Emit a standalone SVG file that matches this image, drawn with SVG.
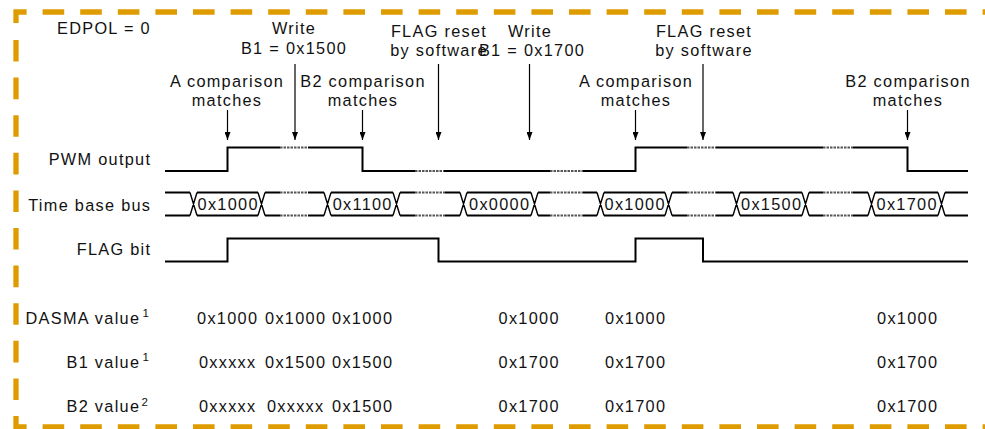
<svg xmlns="http://www.w3.org/2000/svg" width="985" height="429" viewBox="0 0 985 429">
<defs>
<marker id="ah" viewBox="0 0 8 6" refX="8" refY="3" markerWidth="8" markerHeight="6" markerUnits="userSpaceOnUse" orient="auto">
<path d="M0,0 L8,3 L0,6 z" fill="#000"/>
</marker>
</defs>
<style>
text{font-family:"Liberation Sans",Arial,sans-serif;font-size:16.3px;letter-spacing:1.3px;fill:#111}
.m{text-anchor:middle}
.e{text-anchor:end}
.sup{font-size:11.5px;letter-spacing:0}
.border{fill:none;stroke:#DE9C00;stroke-width:5.3;stroke-dasharray:21.6 16}
.w{fill:none;stroke:#000;stroke-width:2}
.d{fill:none;stroke:#555;stroke-width:2;stroke-dasharray:2.5 1}
.x{fill:none;stroke:#000;stroke-width:1.4}
.arr{stroke:#000;stroke-width:1.2;fill:none}
</style>
<g id="border">
<path class="border" d="M16,23 V12 H995"/>
<path class="border" d="M16,40 V427 H995"/>
</g>
<g id="title"><text x="57" y="34">EDPOL = 0</text></g>
<g id="events">
<text class="m" x="227" y="86.5">A comparison</text><text class="m" x="227" y="106">matches</text>
<text class="m" x="294" y="34">Write</text><text class="m" x="294" y="53.5">B1 = 0x1500</text>
<text class="m" x="363" y="86.5">B2 comparison</text><text class="m" x="363" y="106">matches</text>
<text class="m" x="439" y="36.5">FLAG reset</text><text class="m" x="439" y="55.5">by software</text>
<text class="m" x="530" y="36.5">Write</text><text class="m" x="532" y="55.5">B1 = 0x1700</text>
<text class="m" x="636" y="86.5">A comparison</text><text class="m" x="636" y="106">matches</text>
<text class="m" x="704" y="36.5">FLAG reset</text><text class="m" x="704" y="55.5">by software</text>
<text class="m" x="908" y="86.5">B2 comparison</text><text class="m" x="908" y="106">matches</text>
</g>
<g id="connectors">
<line class="arr" x1="227.5" y1="110" x2="227.5" y2="140" marker-end="url(#ah)"/>
<line class="arr" x1="295" y1="64" x2="295" y2="140" marker-end="url(#ah)"/>
<line class="arr" x1="362.5" y1="110" x2="362.5" y2="140" marker-end="url(#ah)"/>
<line class="arr" x1="438.5" y1="64" x2="438.5" y2="140" marker-end="url(#ah)"/>
<line class="arr" x1="529.5" y1="64" x2="529.5" y2="140" marker-end="url(#ah)"/>
<line class="arr" x1="635.5" y1="110" x2="635.5" y2="140" marker-end="url(#ah)"/>
<line class="arr" x1="703" y1="64" x2="703" y2="140" marker-end="url(#ah)"/>
<line class="arr" x1="907.5" y1="110" x2="907.5" y2="140" marker-end="url(#ah)"/>
</g>
<g id="pwm">
<text class="e" x="151.3" y="164.5">PWM output</text>
<path class="w" d="M165,171 H227.5 V147.5 H280 M308,147.5 H362.5 V171 H415 M444,171 H550 M583,171 H635.5 V147.5 H687 M716,147.5 H823 M853,147.5 H907.5 V171 H968"/>
<path class="d" d="M280,147.5 H308 M415,171 H444 M550,171 H583 M687,147.5 H716 M823,147.5 H853"/>
</g>
<g id="bus">
<text class="e" x="151.3" y="210.5">Time base bus</text>
<path class="w" d="M165,192.5 H190 M197,192.5 H258 M265,192.5 H280 M308,192.5 H324 M331,192.5 H393 M400,192.5 H415 M445,192.5 H460 M467,192.5 H531 M538,192.5 H550 M583,192.5 H597 M604,192.5 H665 M672,192.5 H687 M716,192.5 H733 M740,192.5 H802 M809,192.5 H823 M853,192.5 H868 M875,192.5 H938 M945,192.5 H968
M165,215.5 H190 M197,215.5 H258 M265,215.5 H280 M308,215.5 H324 M331,215.5 H393 M400,215.5 H415 M445,215.5 H460 M467,215.5 H531 M538,215.5 H550 M583,215.5 H597 M604,215.5 H665 M672,215.5 H687 M716,215.5 H733 M740,215.5 H802 M809,215.5 H823 M853,215.5 H868 M875,215.5 H938 M945,215.5 H968"/>
<path class="d" d="M280,192.5 H308 M415,192.5 H445 M550,192.5 H583 M687,192.5 H716 M823,192.5 H853 M280,215.5 H308 M415,215.5 H445 M550,215.5 H583 M687,215.5 H716 M823,215.5 H853"/>
<path class="x" d="M190,192.5 L197,215.5 M190,215.5 L197,192.5 M258,192.5 L265,215.5 M258,215.5 L265,192.5 M324,192.5 L331,215.5 M324,215.5 L331,192.5 M393,192.5 L400,215.5 M393,215.5 L400,192.5 M460,192.5 L467,215.5 M460,215.5 L467,192.5 M531,192.5 L538,215.5 M531,215.5 L538,192.5 M597,192.5 L604,215.5 M597,215.5 L604,192.5 M665,192.5 L672,215.5 M665,215.5 L672,192.5 M733,192.5 L740,215.5 M733,215.5 L740,192.5 M802,192.5 L809,215.5 M802,215.5 L809,192.5 M868,192.5 L875,215.5 M868,215.5 L875,192.5 M938,192.5 L945,215.5 M938,215.5 L945,192.5"/>
<text class="m" x="228.2" y="210">0x1000</text>
<text class="m" x="362.7" y="210">0x1100</text>
<text class="m" x="499.7" y="210">0x0000</text>
<text class="m" x="635.2" y="210">0x1000</text>
<text class="m" x="771.7" y="210">0x1500</text>
<text class="m" x="907.2" y="210">0x1700</text>
</g>
<g id="flag">
<text class="e" x="151.3" y="255">FLAG bit</text>
<path class="w" d="M165,261.5 H227.5 V238.5 H438.5 V261.5 H635.5 V238.5 H703 V261.5 H968"/>
</g>
<g id="dasma">
<text class="e" x="140.3" y="323.5">DASMA value</text><text class="sup" x="142.5" y="316.7">1</text>
<text class="m" x="227.7" y="323.5">0x1000</text><text class="m" x="295.7" y="323.5">0x1000</text><text class="m" x="362.7" y="323.5">0x1000</text>
<text class="m" x="529.2" y="323.5">0x1000</text><text class="m" x="635.7" y="323.5">0x1000</text><text class="m" x="907.7" y="323.5">0x1000</text>
</g>
<g id="b1">
<text class="e" x="140.3" y="367.5">B1 value</text><text class="sup" x="142.5" y="361">1</text>
<text class="m" x="227.7" y="367.5">0xxxxx</text><text class="m" x="295.7" y="367.5">0x1500</text><text class="m" x="362.7" y="367.5">0x1500</text>
<text class="m" x="529.2" y="367.5">0x1700</text><text class="m" x="635.7" y="367.5">0x1700</text><text class="m" x="907.7" y="367.5">0x1700</text>
</g>
<g id="b2">
<text class="e" x="140.3" y="412">B2 value</text><text class="sup" x="141.5" y="405.7">2</text>
<text class="m" x="227.7" y="412">0xxxxx</text><text class="m" x="295.7" y="412">0xxxxx</text><text class="m" x="362.7" y="412">0x1500</text>
<text class="m" x="529.2" y="412">0x1700</text><text class="m" x="635.7" y="412">0x1700</text><text class="m" x="907.7" y="412">0x1700</text>
</g>
</svg>
